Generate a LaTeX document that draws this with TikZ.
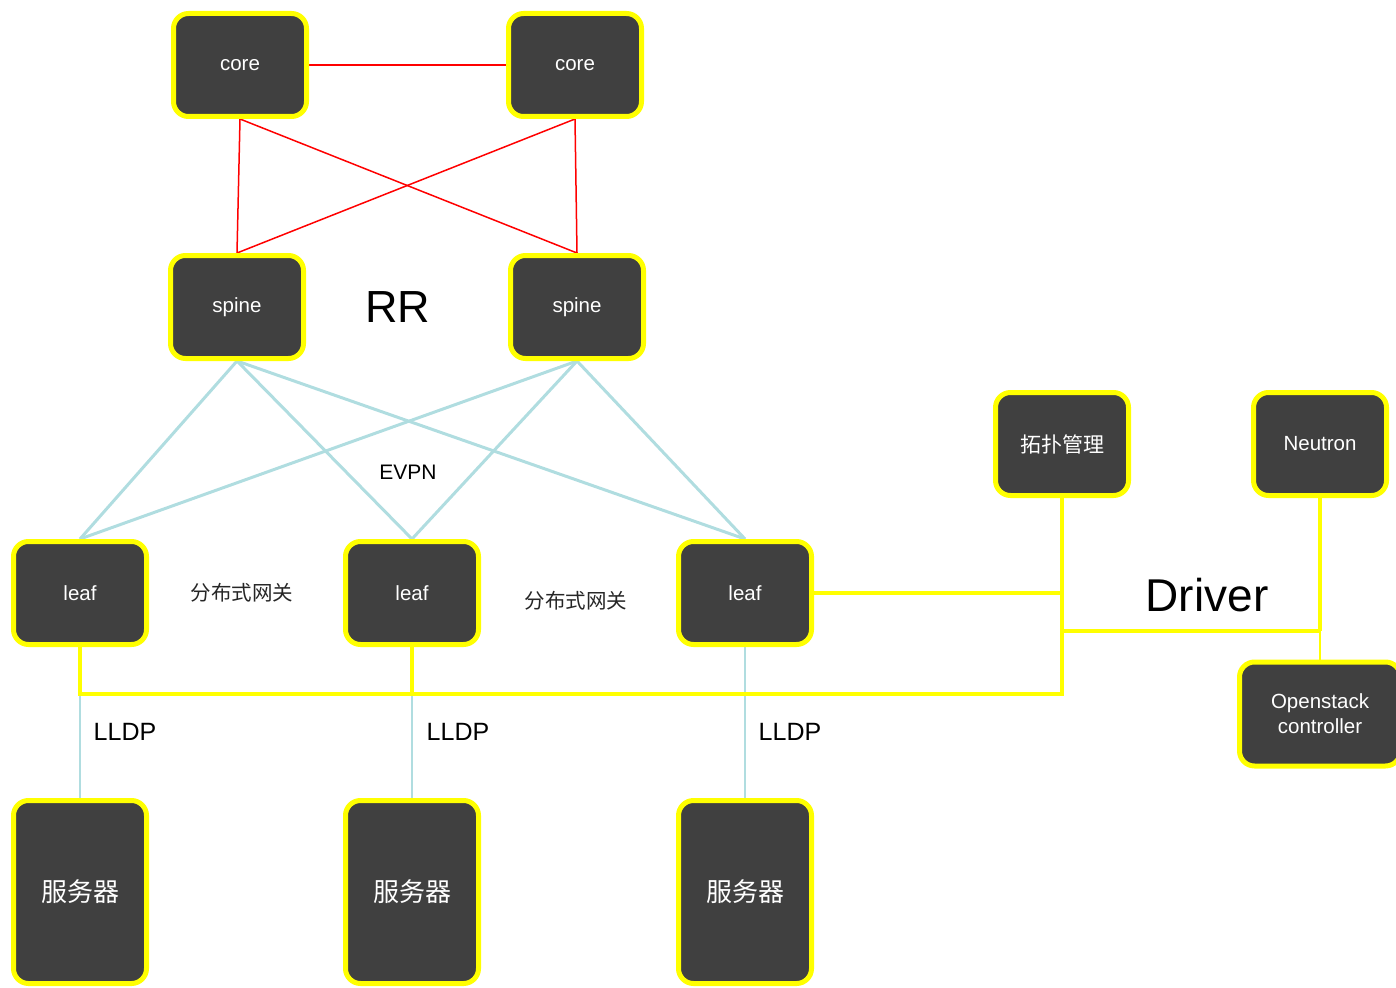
\documentclass[tikz,border=0pt]{standalone}
\usepackage{fontspec}
\setmainfont{Liberation Sans}
\newfontfamily\cjk{Noto Sans CJK SC}
\usetikzlibrary{backgrounds}
\definecolor{boxfill}{HTML}{404040}
\definecolor{boxedge}{HTML}{FFFF00}
\definecolor{evpnblue}{HTML}{B0DDE0}
\definecolor{redline}{HTML}{FF0000}
\tikzset{
  devbox/.style={draw=boxedge, line width=5pt, fill=boxfill, rounded corners=15pt,
    minimum width=133pt, minimum height=103pt, inner sep=0pt, text=white,
    font=\fontsize{20.5}{24}\selectfont, align=center},
  serverbox/.style={devbox, minimum height=183pt, font=\cjk\fontsize{26}{30}\selectfont},
  redlink/.style={draw=redline, line width=1.5pt},
  bluelink/.style={draw=evpnblue, line width=3pt},
  lldplink/.style={draw=evpnblue, line width=1.6pt},
  yellink/.style={draw=boxedge, line width=4pt},
  thinyel/.style={draw=boxedge, line width=2.5pt},
  plainlabel/.style={inner sep=0pt, text=black},
}
\begin{document}
\begin{tikzpicture}[x=1pt, y=-1pt]
\useasboundingbox (0,0) rectangle (1396,987);
\clip (0,0) rectangle (1396,987);
% nodes
\node[devbox] (core1) at (240,65) {core};
\node[devbox] (core2) at (575,65) {core};
\node[devbox] (spine1) at (237,307) {spine};
\node[devbox] (spine2) at (577,307) {spine};
\node[devbox] (leaf1) at (80,593) {leaf};
\node[devbox] (leaf2) at (412,593) {leaf};
\node[devbox] (leaf3) at (745,593) {leaf};
\node[serverbox] (srv1) at (80,892) {服务器};
\node[serverbox] (srv2) at (412,892) {服务器};
\node[serverbox] (srv3) at (745,892) {服务器};
\node[devbox, font=\cjk\fontsize{21}{25}\selectfont] (topo) at (1062,444) {拓扑管理};
\node[devbox] (neutron) at (1320,444) {Neutron};
\node[devbox, minimum width=161pt, minimum height=104pt, font=\fontsize{20.5}{25}\selectfont] (osc) at (1320,714) {Openstack\\controller};
% labels
\node[plainlabel, font=\fontsize{45}{50}\selectfont] (rr) at (398,307) {RR};
\node[plainlabel, font=\fontsize{21}{24}\selectfont] (evpn) at (408,472) {EVPN};
\node[plainlabel, font=\cjk\fontsize{20.5}{24}\selectfont, text=black!85] (gw1) at (242,593) {分布式网关};
\node[plainlabel, font=\cjk\fontsize{20.5}{24}\selectfont, text=black!85] (gw2) at (576,601) {分布式网关};
\node[plainlabel, font=\fontsize{25}{28}\selectfont] (l1) at (125,732) {LLDP};
\node[plainlabel, font=\fontsize{25}{28}\selectfont] (l2) at (458,732) {LLDP};
\node[plainlabel, font=\fontsize{25}{28}\selectfont] (l3) at (790,732) {LLDP};
\node[plainlabel, font=\fontsize{46}{50}\selectfont] (drv) at (1207,595) {Driver};
% junction coordinates
\coordinate (j1) at (80,694);
\coordinate (j2) at (412,694);
\coordinate (j3) at (1062,694);
\coordinate (j4) at (1062,593);
\coordinate (j5) at (1062,631);
\coordinate (j6) at (1320,631);
\begin{scope}[on background layer]
\draw[redlink] (core1.east) -- (core2.west);
\draw[redlink] (core1.south) -- (spine1.north);
\draw[redlink] (core1.south) -- (spine2.north);
\draw[redlink] (core2.south) -- (spine1.north);
\draw[redlink] (core2.south) -- (spine2.north);
\foreach \s in {spine1,spine2}{
  \foreach \l in {leaf1,leaf2,leaf3}{
    \draw[bluelink] (\s.south) -- (\l.north);
  }
}
\draw[lldplink] (leaf1.south) -- (srv1.north);
\draw[lldplink] (leaf2.south) -- (srv2.north);
\draw[lldplink] (leaf3.south) -- (srv3.north);
\draw[yellink, line join=miter] (leaf1.south) -- (j1) -- (j3) -- (topo.south);
\draw[yellink] (leaf2.south) -- (j2);
\draw[yellink] (leaf3.east) -- (j4);
\draw[yellink] (j5) -- (j6);
\draw[yellink] (neutron.south) -- (j6);
\draw[thinyel] (j6) -- (osc.north);
\end{scope}
\end{tikzpicture}
\end{document}
